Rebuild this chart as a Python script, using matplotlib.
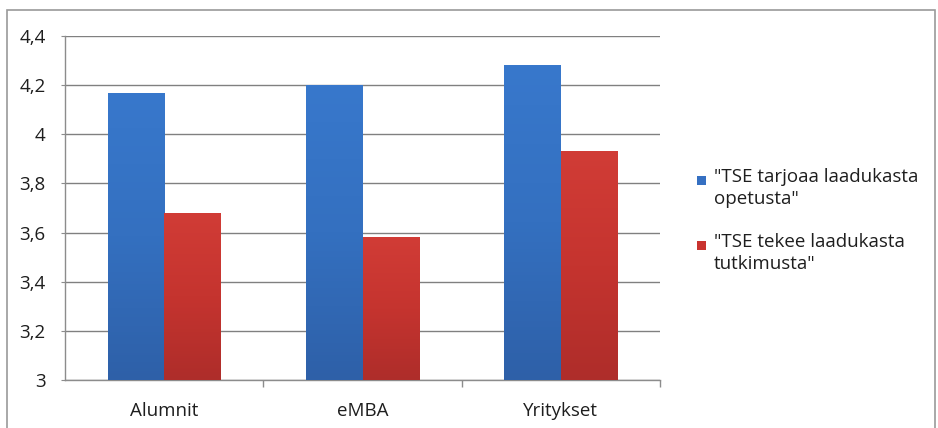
import matplotlib
matplotlib.use("Agg")
import matplotlib.pyplot as plt
import numpy as np
from matplotlib.colors import LinearSegmentedColormap
from matplotlib.patches import Rectangle

categories = ["Alumnit", "eMBA", "Yritykset"]
opetus = [4.17, 4.20, 4.28]
tutkimus = [3.68, 3.58, 3.93]
series_labels = ['"TSE tarjoaa laadukasta\nopetusta"', '"TSE tekee laadukasta\ntutkimusta"']
yticks = [3.0, 3.2, 3.4, 3.6, 3.8, 4.0, 4.2, 4.4]
ytick_labels = ["3", "3,2", "3,4", "3,6", "3,8", "4", "4,2", "4,4"]

plt.rcParams['font.family'] = ['Open Sans', 'DejaVu Sans']

fig = plt.figure(figsize=(9.38, 4.28), dpi=100)
W, H = 938, 428
ax = fig.add_axes([65 / W, 1 - 380 / H, 595 / W, 344 / H])

x = np.arange(len(categories))
bw = 0.285
blue_c = "#3570c2"
red_c = "#c9332f"
b1 = ax.bar(x - bw / 2, opetus, bw, bottom=0, color=blue_c, zorder=3)
b2 = ax.bar(x + bw / 2, tutkimus, bw, bottom=0, color=red_c, zorder=3)

ax.set_ylim(3.0, 4.4)
ax.set_xlim(-0.5, 2.5)

# vertical gradient shading clipped to bars
cm_blue = LinearSegmentedColormap.from_list("b", ["#2e60a8", "#3470c0", "#3878cc"])
cm_red = LinearSegmentedColormap.from_list("r", ["#ae2d2a", "#c5342f", "#d13c36"])
grad = np.linspace(0, 1, 256).reshape(-1, 1)
for bars, cm in ((b1, cm_blue), (b2, cm_red)):
    for p in bars:
        x0 = p.get_x()
        x1 = x0 + p.get_width()
        top = p.get_height()
        im = ax.imshow(grad, extent=[x0, x1, 3.0, top], origin="lower", aspect="auto",
                       cmap=cm, zorder=3.5)
        im.set_clip_path(p)
ax.set_ylim(3.0, 4.4)
ax.set_xlim(-0.5, 2.5)

ax.set_yticks(yticks)
ax.set_yticklabels(ytick_labels)
ax.yaxis.grid(True, color="#808080", linewidth=1.0, zorder=0)
ax.set_axisbelow(True)

ax.set_xticks(x)
ax.set_xticklabels(categories)
ax.set_xticks([0.5, 1.5, 2.5], minor=True)
ax.tick_params(axis="x", which="major", length=0, pad=16, labelsize=13.5, colors="#1e1e1e")
ax.tick_params(axis="x", which="minor", length=5, color="#8c8c8c", width=1)
ax.tick_params(axis="y", length=3, color="#8c8c8c", pad=11, labelsize=13.5, labelcolor="#1e1e1e")

for s in ("top", "right"):
    ax.spines[s].set_visible(False)
for s in ("left", "bottom"):
    ax.spines[s].set_color("#8c8c8c")
    ax.spines[s].set_linewidth(1.0)

# legend drawn manually (square aligned to first text line)
leg_colors = [blue_c, red_c]
leg_y = [180, 245]
for lbl, c, yy in zip(series_labels, leg_colors, leg_y):
    fig.patches.append(Rectangle((697 / W, 1 - (yy + 4.5) / H), 9 / W, 9 / H,
                                 transform=fig.transFigure, facecolor=c, edgecolor="none"))
    fig.text(714 / W, 1 - (yy - 12) / H, lbl, fontsize=13.5, va="top", ha="left",
             color="#1e1e1e", linespacing=1.3)

# outer chart frame
fig.patches.append(Rectangle((7 / W, -0.01), (935 - 7) / W, 1 - 10 / H + 0.01,
                             transform=fig.transFigure, facecolor="none",
                             edgecolor="#9a9a9a", linewidth=1.2))

fig.savefig("out.png", dpi=100)
